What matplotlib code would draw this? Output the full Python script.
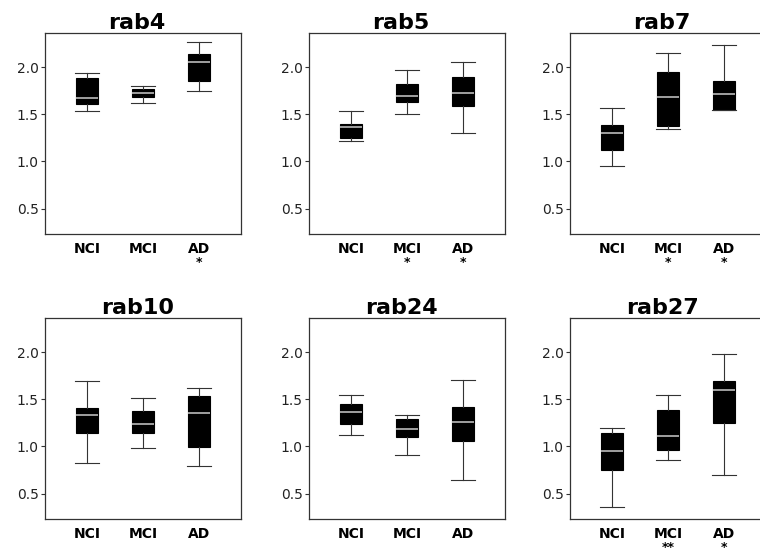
import matplotlib.pyplot as plt

# box statistics: low whisker, Q1, median, Q3, high whisker
groups = ['NCI', 'MCI', 'AD']
titles = ['rab4', 'rab5', 'rab7', 'rab10', 'rab24', 'rab27']

whislo = [[1.535, 1.62, 1.75], [1.22, 1.50, 1.30], [0.947, 1.35, 1.545],
          [0.826, 0.982, 0.79], [1.117, 0.911, 0.642], [0.362, 0.855, 0.70]]
q1 = [[1.616, 1.69, 1.85], [1.25, 1.627, 1.59], [1.123, 1.38, 1.546],
      [1.138, 1.145, 0.99], [1.238, 1.096, 1.057], [0.748, 0.968, 1.248]]
med = [[1.676, 1.73, 2.056], [1.366, 1.70, 1.725], [1.30, 1.687, 1.715],
       [1.337, 1.241, 1.355], [1.362, 1.19, 1.259], [0.947, 1.11, 1.60]]
q3 = [[1.89, 1.775, 2.14], [1.40, 1.82, 1.90], [1.39, 1.954, 1.85],
      [1.404, 1.376, 1.54], [1.447, 1.294, 1.415], [1.142, 1.383, 1.695]]
whishi = [[1.937, 1.80, 2.27], [1.54, 1.97, 2.06], [1.563, 2.155, 2.24],
          [1.70, 1.514, 1.62], [1.546, 1.337, 1.706], [1.199, 1.546, 1.98]]
stars = [['', '', '*'], ['', '*', '*'], ['', '*', '*'],
         ['', '', ''], ['', '', ''], ['', '**', '*']]

plt.rcParams['font.family'] = ['DejaVu Sans']

fig = plt.figure(figsize=(7.6, 5.55), dpi=100)
lefts = [0.0592, 0.4066, 0.75]
bottoms = [0.5784, 0.0649]
w, h = 0.258, 0.363

for k in range(6):
    ax = fig.add_axes([lefts[k % 3], bottoms[k // 3], w, h])
    stats = []
    for i, g in enumerate(groups):
        stats.append(dict(whislo=whislo[k][i], q1=q1[k][i], med=med[k][i],
                          q3=q3[k][i], whishi=whishi[k][i], fliers=[], label=g))
    ax.bxp(stats, positions=[1, 2, 3], widths=0.38, capwidths=0.42,
           patch_artist=True, showfliers=False,
           boxprops=dict(facecolor='black', edgecolor='black', linewidth=0.8),
           medianprops=dict(color='#bbbbbb', linewidth=1.2),
           whiskerprops=dict(color='#333333', linewidth=0.8),
           capprops=dict(color='#333333', linewidth=0.8))
    ax.set_xlim(0.25, 3.75)
    ax.set_ylim(0.23, 2.37)
    ax.set_yticks([0.5, 1.0, 1.5, 2.0])
    ax.set_yticklabels(['0.5', '1.0', '1.5', '2.0'], fontsize=10, color='#222222')
    ax.tick_params(axis='y', length=3, width=0.8, pad=1.5, color='#333333')
    ax.tick_params(axis='x', length=0, pad=6)
    ax.set_xticks([1, 2, 3])
    ax.set_xticklabels(groups, fontsize=10, fontweight='bold')
    for sp in ax.spines.values():
        sp.set_color('#333333')
        sp.set_linewidth(0.9)
    ax.set_title(titles[k], fontsize=16, fontweight='bold', pad=2, x=0.47)
    for i, s in enumerate(stars[k]):
        if s:
            ax.annotate(s, xy=(i + 1, 0), xycoords=('data', 'axes fraction'),
                        xytext=(0, -16), textcoords='offset points',
                        ha='center', va='top', fontsize=9, fontweight='bold')

fig.savefig('out.png', dpi=100)
